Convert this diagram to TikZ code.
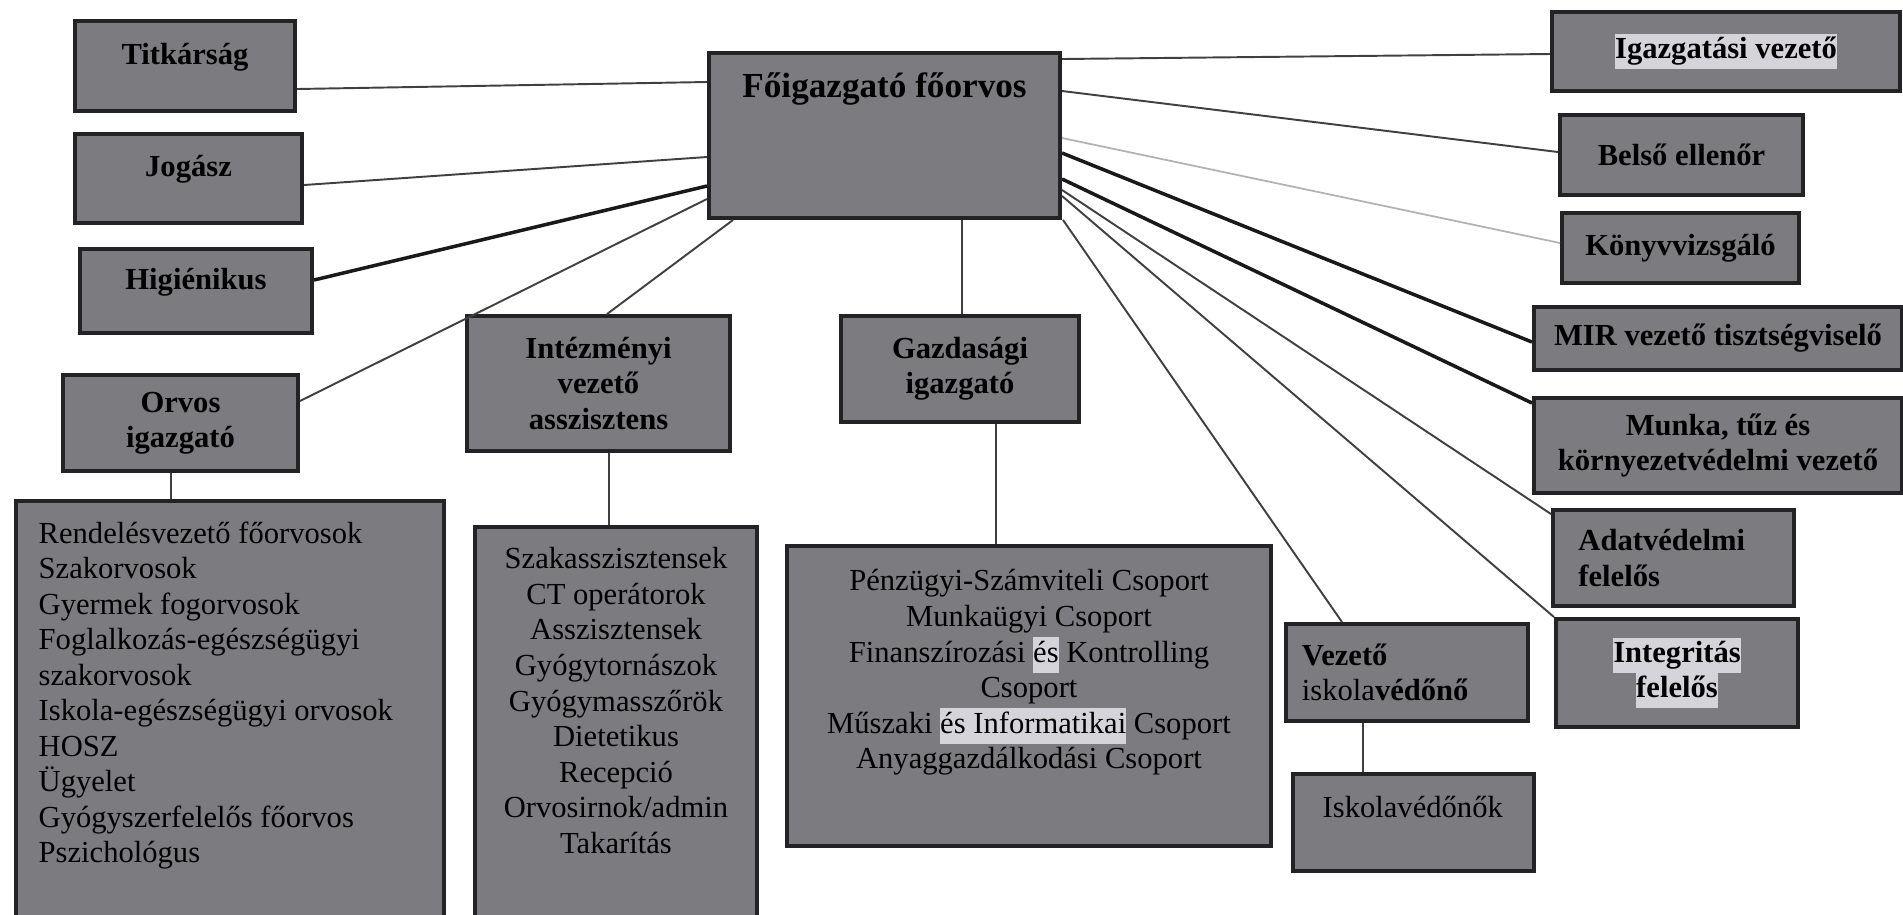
\documentclass[tikz,border=0pt]{standalone}
\usepackage{fontspec}
\setmainfont{Liberation Serif}
\usepackage{tikz}

\definecolor{boxgray}{RGB}{124,124,128}
\definecolor{boxline}{RGB}{35,35,38}
\definecolor{hlgray}{RGB}{212,212,218}
\newcommand{\unitfont}{\fontsize{8.7pt}{10pt}\selectfont}
\newcommand{\listfont}{\fontsize{8.7pt}{10.1pt}\selectfont}
\newcommand{\marktext}[1]{{\setlength{\fboxsep}{0pt}\colorbox{hlgray}{\strut #1}}}

\begin{document}
\begin{tikzpicture}
      [
        x=0.01cm, y=-0.01cm,
        unit/.style={draw=boxline, fill=boxgray, line width=1.1pt, inner sep=0pt, align=center, font=\unitfont\bfseries},
        raised/.style={text height=6pt, text depth=7pt},
        listtext/.style={inner sep=0pt, font=\listfont},
        link/.style={draw=black!75, line width=0.55pt},
        heavylink/.style={draw=black!90, line width=1pt},
        faintlink/.style={draw=black!30, line width=0.5pt}
      ]
      \useasboundingbox (0,0) rectangle (1903,914);
      \clip (0,0) rectangle (1903,914);
      % head
      \node [unit, minimum width=3.51cm, minimum height=1.65cm] (fo) at (884.5,135.5) {};
      \node [font=\fontsize{10pt}{12pt}\selectfont\bfseries] (fotxt) at (884.5,89) {Főigazgató főorvos};
      % left column
      \node [unit, raised, minimum width=2.20cm, minimum height=0.90cm] (tit) at (185,66) {Titkárság};
      \node [unit, raised, minimum width=2.27cm, minimum height=0.89cm] (jog) at (188.5,178.5) {Jogász};
      \node [unit, raised, minimum width=2.32cm, minimum height=0.84cm] (hig) at (196,291) {Higiénikus};
      \node [unit, minimum width=2.35cm, minimum height=0.96cm] (orv) at (180.5,423) {Orvos\\igazgató};
      \node [unit, minimum width=2.63cm, minimum height=1.35cm] (inte) at (598.5,383.5) {Intézményi\\vezető\\asszisztens};
      \node [unit, minimum width=2.38cm, minimum height=1.06cm] (gazd) at (960,369) {Gazdasági\\igazgató};
      % right column
      \node [unit, minimum width=3.48cm, minimum height=0.79cm] (igv) at (1726,51.5) {\marktext{Igazgatási vezető}};
      \node [unit, minimum width=2.43cm, minimum height=0.80cm] (bel) at (1681.5,155) {Belső ellenőr};
      \node [unit, minimum width=2.37cm, minimum height=0.70cm] (kon) at (1680.5,248) {Könyvvizsgáló};
      \node [unit, minimum width=3.68cm, minimum height=0.63cm] (mir) at (1718,338.5) {MIR vezető tisztségviselő};
      \node [unit, minimum width=3.68cm, minimum height=0.95cm] (mun) at (1718,445.5) {Munka, tűz és\\környezetvédelmi vezető};
      \node [unit, minimum width=2.41cm, minimum height=0.96cm, text width=1.9cm, align=left] (adat) at (1673.5,558) {Adatvédelmi\\felelős};
      \node [unit, minimum width=2.42cm, minimum height=1.08cm] (integ) at (1677,673) {\marktext{Integritás}\\\marktext{felelős}};
      \node [unit, minimum width=2.42cm, minimum height=0.97cm, text width=2.1cm, align=left] (vez) at (1407,672.5) {Vezető\\\textmd{iskola}védőnő};
      \node [unit, minimum width=2.41cm, minimum height=0.97cm] (isk) at (1413.5,822.5) {};
      \node [listtext, anchor=west] (isktxt) at (1322,807) {Iskolavédőnők};
      % staff lists
      \node [unit, minimum width=4.28cm, minimum height=4.29cm] (orvlist) at (230,715.5) {};
      \node [listtext, anchor=north west, align=left] (orvtxt) at (38,521) {Rendelésvezető főorvosok\\Szakorvosok\\Gyermek fogorvosok\\Foglalkozás-egészségügyi\\szakorvosok\\Iskola-egészségügyi orvosok\\HOSZ\\Ügyelet\\Gyógyszerfelelős főorvos\\Pszichológus};
      \node [unit, minimum width=2.82cm, minimum height=4.03cm] (szlist) at (616,728.5) {};
      \node [listtext, anchor=north, align=center] (sztxt) at (616,547) {Szakasszisztensek\\CT operátorok\\Asszisztensek\\Gyógytornászok\\Gyógymasszőrök\\Dietetikus\\Recepció\\Orvosirnok/admin\\Takarítás};
      \node [unit, minimum width=4.84cm, minimum height=3.00cm] (penz) at (1029,696) {};
      \node [listtext, anchor=north, align=center] (penztxt) at (1029,569) {Pénzügyi-Számviteli Csoport\\Munkaügyi Csoport\\Finanszírozási \marktext{és} Kontrolling\\Csoport\\Műszaki \marktext{és Informatikai} Csoport\\Anyaggazdálkodási Csoport};
      % links to the left
      \draw [link] (tit.east |- 0,89) -- (fo.west |- 0,82);
      \draw [link] (jog.east |- 0,185) -- (fo.west |- 0,157);
      \draw [heavylink] (hig.east |- 0,280) -- (fo.west |- 0,186);
      \draw [link] (orv.east |- 0,401) -- (fo.west |- 0,199);
      \draw [link] (607,0 |- inte.north) -- (733,0 |- fo.south);
      % links to the right
      \draw [link] (fo.east |- 0,59) -- (igv.west |- 0,54);
      \draw [link] (fo.east |- 0,91) -- (bel.west |- 0,152);
      \draw [faintlink] (fo.east |- 0,138) -- (kon.west |- 0,243);
      \draw [heavylink] (fo.east |- 0,153) -- (mir.west |- 0,342);
      \draw [heavylink] (fo.east |- 0,179) -- (mun.west |- 0,403);
      \draw [link] (fo.east |- 0,190) -- (adat.west |- 0,514);
      \draw [link] (fo.east |- 0,196) -- (integ.north west);
      \draw [link] (1063,0 |- fo.south) -- (1342,0 |- vez.north);
      % links downwards
      \draw [link] (962,0 |- fo.south) -- (962,0 |- gazd.north);
      \draw [link] (171,0 |- orv.south) -- (171,0 |- orvlist.north);
      \draw [link] (609,0 |- inte.south) -- (609,0 |- szlist.north);
      \draw [link] (996,0 |- gazd.south) -- (996,0 |- penz.north);
      \draw [link] (1363,0 |- vez.south) -- (1363,0 |- isk.north);
    \end{tikzpicture}
\end{document}
